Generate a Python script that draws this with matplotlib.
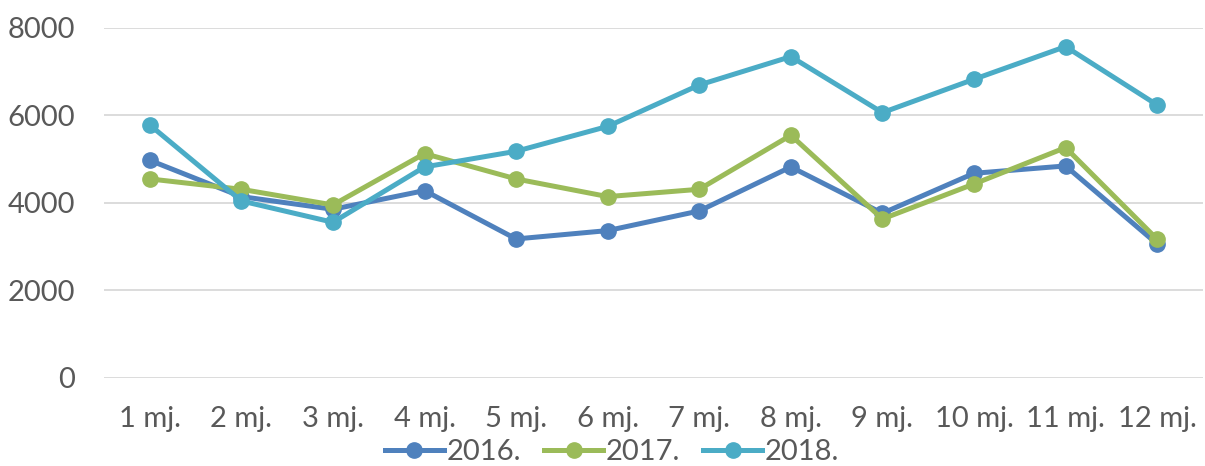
import matplotlib.pyplot as plt

months = ["1 mj.", "2 mj.", "3 mj.", "4 mj.", "5 mj.", "6 mj.",
          "7 mj.", "8 mj.", "9 mj.", "10 mj.", "11 mj.", "12 mj."]
y2016 = [4975, 4145, 3855, 4282, 3177, 3368, 3817, 4823, 3764, 4678, 4846, 3063]
y2017 = [4549, 4312, 3954, 5128, 4549, 4145, 4312, 5547, 3634, 4434, 5265, 3169]
y2018 = [5783, 4046, 3558, 4823, 5181, 5750, 6697, 7345, 6065, 6827, 7574, 6240]

plt.rcParams['font.family'] = ['Lato', 'DejaVu Sans']
grey = "#595959"

fig = plt.figure(figsize=(12.05, 4.66), dpi=100)
ax = fig.add_axes([0.0863, 0.189, 0.912, 0.751])

x = range(len(months))
ax.plot(x, y2016, color="#4F81BD", lw=3.6, marker="o", ms=11, label="2016.")
ax.plot(x, y2017, color="#9BBB59", lw=3.6, marker="o", ms=11, label="2017.")
ax.plot(x, y2018, color="#4BACC6", lw=3.6, marker="o", ms=11, label="2018.")

ax.set_xlim(-0.5, 11.5)
ax.set_ylim(0, 8000)
ax.set_yticks([0, 2000, 4000, 6000, 8000])
ax.set_xticks(list(x))
ax.set_xticklabels(months)
ax.grid(axis="y", color="#d9d9d9", lw=1.3)
ax.set_axisbelow(True)
for s in ax.spines.values():
    s.set_visible(False)
ax.tick_params(length=0, labelsize=21, colors=grey)
ax.tick_params(axis="x", pad=20)
ax.tick_params(axis="y", pad=21)

handles, labels = ax.get_legend_handles_labels()
fig.legend(handles, labels, loc="center", bbox_to_anchor=(0.508, 0.03), ncol=3,
           frameon=False, fontsize=21, handlelength=2.0, handletextpad=0.1,
           columnspacing=0.8, borderaxespad=0, labelcolor=grey)

fig.savefig("out.png", dpi=100)
